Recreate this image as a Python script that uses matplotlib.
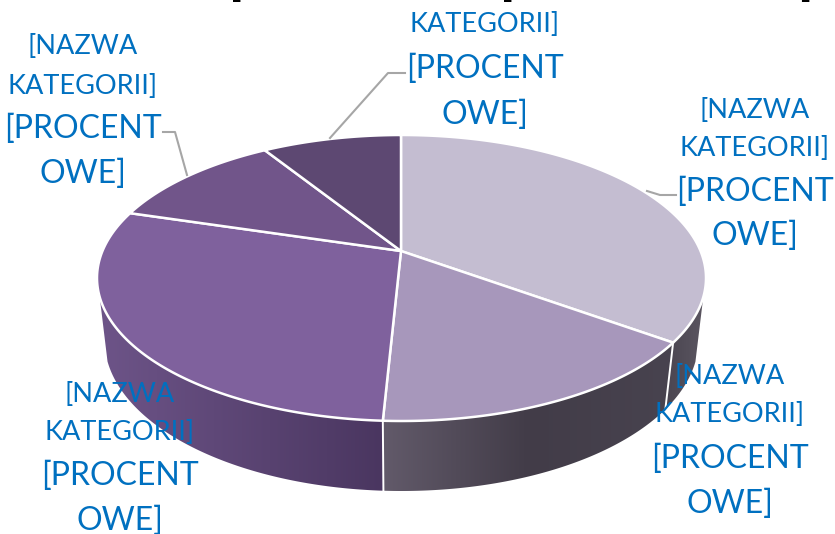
import numpy as np
import matplotlib
matplotlib.use('Agg')
import matplotlib.pyplot as plt
from matplotlib.colors import LinearSegmentedColormap
from matplotlib.patches import Polygon

plt.rcParams['font.family'] = ['Lato', 'DejaVu Sans']

# Slice shares in percent, clockwise from 12 o'clock
values = [34.9, 15.9, 28.8, 11.4, 9.0]
top_colors = ['#c4bdd1', '#a797bb', '#7f619d', '#71558a', '#5d4872']
# wall gradients, left to right
side_colors = [['#4a4550', '#5a5560'],
               ['#625a6a', '#423c48', '#48434f'],
               ['#6d5488', '#4a3660'],
               ['#6d5488', '#6d5488'],
               ['#5d4872', '#5d4872']]
name_lines = ['[NAZWA', 'KATEGORII]']
pct_lines = ['[PROCENT', 'OWE]']

# label centres x, and y of the four lines
label_x = [755, 730, 120, 83, 485]
label_y = [[110, 149, 192, 236],
           [377, 415, 459, 504],
           [394, 433, 476, 521],
           [47, 87, 129, 174],
           [-15, 25, 69, 115]]
leaders = [[(647, 191), (660, 195), (676, 195)],
           [(187, 175), (175, 132), (163, 132)],
           [(330, 138), (388, 73), (405, 73)]]
# what is left of the chart title, cut by the top edge
title_marks = [(236, '['), (507, '['), (806, ']')]

# ellipse geometry in pixels
top_c = (401.5, 278)
top_r = (304.5, 143)
apex = (401, 251)
bot_c = (401.5, 340)
bot_r = (297, 151)
bot_apex = (401, 313)
wall_from, wall_to = np.deg2rad(108), np.deg2rad(252)


def rim(theta, c, r, o):
    # point where the ray from o at angle theta hits the ellipse
    dx, dy = np.sin(theta) * r[0], -np.cos(theta) * r[1]
    ox, oy = (o[0] - c[0]) / r[0], (o[1] - c[1]) / r[1]
    ux, uy = dx / r[0], dy / r[1]
    A = ux ** 2 + uy ** 2
    B = 2 * (ox * ux + oy * uy)
    C = ox ** 2 + oy ** 2 - 1
    t = (-B + np.sqrt(B ** 2 - 4 * A * C)) / (2 * A)
    return o[0] + t * dx, o[1] + t * dy


def rim_arc(a0, a1):
    th = np.linspace(a0, a1, 200)
    return np.array(rim(th, top_c, top_r, apex)).T, np.array(rim(th, bot_c, bot_r, bot_apex)).T


fig = plt.figure(figsize=(8.35, 5.34), dpi=100)
ax = fig.add_axes([0, 0, 1, 1])

edges = np.deg2rad(np.concatenate([[0], np.cumsum(values) * 3.6]))

# side wall first, only the front part shows
for i in range(len(values)):
    a0, a1 = edges[i], edges[i + 1]
    front0 = max(a0, wall_from)
    front1 = min(a1, wall_to)
    if front1 <= front0:
        continue
    t, b = rim_arc(front0, front1)
    pts = np.vstack([t, b[::-1]])
    cmap = LinearSegmentedColormap.from_list('s', side_colors[i])
    im = ax.imshow(np.linspace(0, 1, 256).reshape(1, -1), cmap=cmap, aspect='auto',
                   extent=[pts[:, 0].min(), pts[:, 0].max(), 534, 0], zorder=2)
    im.set_clip_path(Polygon(pts, closed=True, transform=ax.transData))
    # separator on the wall
    if a1 < wall_to:
        ax.plot([t[-1, 0], b[-1, 0]], [t[-1, 1], b[-1, 1]], color='white', lw=1.4, zorder=3)

ax.set_xlim(0, 835)
ax.set_ylim(534, 0)
ax.axis('off')

# top face
for i in range(len(values)):
    t, _ = rim_arc(edges[i], edges[i + 1])
    pts = np.vstack([[apex], t])
    ax.add_patch(Polygon(pts, closed=True, facecolor=top_colors[i], edgecolor='white',
                         lw=1.8, joinstyle='round', zorder=4))

for line in leaders:
    xs, ys = zip(*line)
    ax.plot(xs, ys, color='#a6a6a6', lw=1.5, zorder=5)

for x, ys in zip(label_x, label_y):
    lines = name_lines + pct_lines
    sizes = [19.5, 19.5, 23, 23]
    for txt, y, fs in zip(lines, ys, sizes):
        ax.text(x, y, txt, color='#0070c0', fontsize=fs, ha='center', va='center', zorder=6)

for x, txt in title_marks:
    ax.text(x, 1.5, txt, color='black', fontsize=26, fontweight='bold', ha='center', va='bottom', zorder=6)

fig.savefig('out.png', dpi=100)
